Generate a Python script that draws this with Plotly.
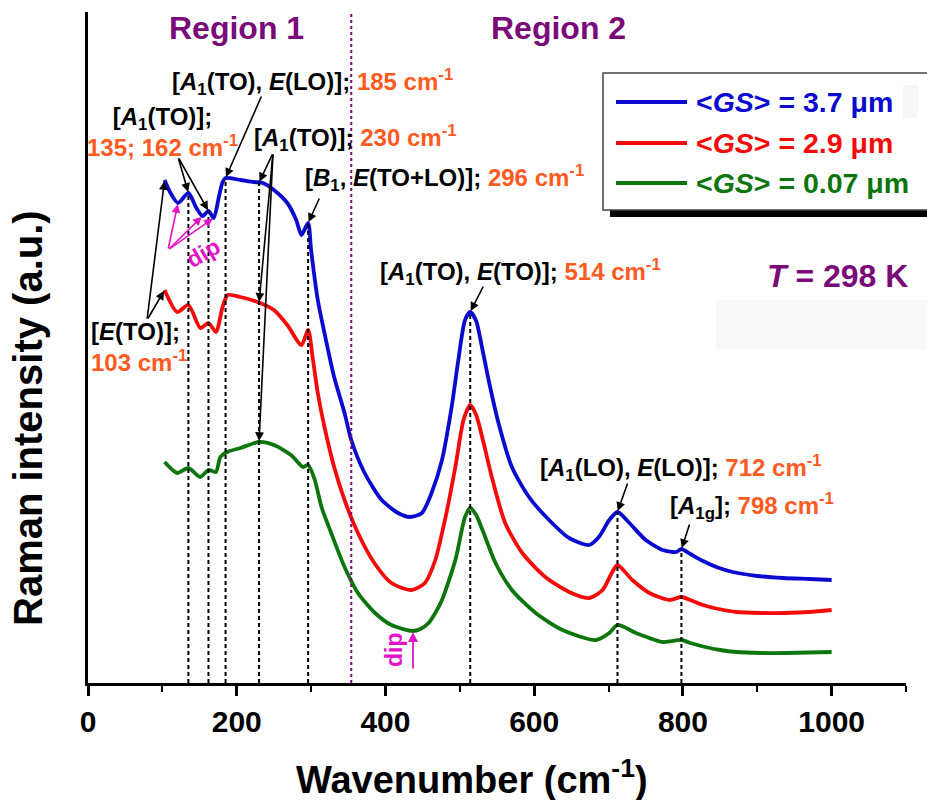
import numpy as np
import plotly.graph_objects as go

# ---- Raman spectra (wavenumber in cm^-1, intensity in a.u., vertically offset) ----
wn_37 = [103, 111, 121, 135, 145, 154, 162, 169, 176, 181, 185, 205, 223, 235, 250, 268,
         280, 287, 296, 300, 309, 318, 331, 345, 354, 372, 395, 417, 433, 449, 462, 476,
         489, 498, 507, 514, 522, 530, 539, 552, 570, 593, 620, 647, 674, 687, 701, 712, 728,
         750, 773, 791, 798, 810, 827, 845, 867, 900, 935, 970, 1000]
int_37 = [503, 490, 480, 490, 476, 467, 472, 465, 486, 501, 505, 503, 501, 500, 493, 480,
          463, 448, 460, 433, 383, 350, 306, 270, 243, 210, 183, 170, 166, 170, 190, 223,
          276, 323, 363, 371, 362, 335, 302, 260, 216, 186, 163, 145, 138, 146, 163, 171, 160,
          143, 133, 131, 134, 129, 122, 116, 111, 107, 105, 104, 103]

wn_29 = [103, 120, 135, 151, 162, 172, 181, 188, 205, 228, 250, 268, 287, 296, 302, 309,
         318, 331, 345, 363, 385, 408, 435, 453, 467, 480, 494, 505, 514, 522, 532, 543, 561,
         584, 615, 647, 674, 692, 705, 712, 732, 755, 782, 798, 810, 827, 848, 872, 905,
         939, 970, 1000]
int_29 = [393, 371, 378, 355, 360, 351, 376, 388, 386, 381, 373, 358, 338, 353, 326, 290,
          256, 216, 183, 150, 120, 100, 93, 100, 123, 163, 216, 263, 278, 268, 240, 206, 160,
          130, 106, 91, 85, 93, 111, 118, 103, 90, 83, 86, 83, 78, 74, 71, 70,
          70, 71, 73]

wn_007 = [103, 120, 135, 151, 162, 172, 178, 187, 205, 230, 250, 273, 289, 296, 305, 314,
          327, 345, 363, 386, 408, 437, 447, 458, 467, 476, 494, 507, 514, 522, 532, 548, 570,
          602, 638, 683, 701, 712, 737, 773, 798, 810, 830, 850, 872, 905, 939, 1000]
int_007 = [221, 210, 215, 206, 213, 211, 226, 231, 235, 241, 238, 228, 216, 218, 203, 176,
           150, 116, 90, 70, 58, 52, 54, 60, 70, 83, 123, 166, 175, 168, 150, 120, 93,
           70, 53, 43, 50, 58, 50, 41, 43, 40, 36, 33, 31, 30, 30, 31]

series_names = ["&lt;<i>GS</i>&gt; = 3.7 μm", "&lt;<i>GS</i>&gt; = 2.9 μm", "&lt;<i>GS</i>&gt; = 0.07 μm"]

# assigned phonon modes (cm^-1)
mode_wn = [135, 162, 185, 230, 296, 514, 712, 798]
region_split = 354
dip_wn_region1 = [121, 154, 169]
dip_wn_region2 = 437

BLUE = "#0A0AD0"
RED = "#F50A0A"
GREEN = "#0C760C"
ORANGE = "#FF5A1F"
PURPLE = "#7A0A78"
MAGENTA = "#E214C6"
FONT = "Liberation Sans, Arial, sans-serif"

W, H = 927, 800
L, R, T, B = 88, 21, 12, 117
X_MAX = 1100
Y_MAX = H - T - B
PX_PER_WN = (W - L - R) / X_MAX


def to_data(px, py):
    """Canvas pixel position -> axis coordinates."""
    return (px - L) / PX_PER_WN, (H - B) - py


def to_paper(px, py):
    return (px - L) / (W - L - R), ((H - B) - py) / Y_MAX


def level(w, wn, inten):
    return float(np.interp(w, wn, inten))


fig = go.Figure()
for wn, inten, col, nm in [(wn_37, int_37, BLUE, series_names[0]),
                           (wn_29, int_29, RED, series_names[1]),
                           (wn_007, int_007, GREEN, series_names[2])]:
    fig.add_trace(go.Scatter(x=wn, y=inten, mode="lines", name=nm, showlegend=False,
                             line=dict(color=col, width=3.8, shape="spline", smoothing=0.7)))

shapes = []
# region divider
shapes.append(dict(type="line", xref="x", yref="y", x0=region_split, x1=region_split,
                   y0=0, y1=Y_MAX, line=dict(color=PURPLE, width=2, dash="dot")))
# mode markers: dashed drop lines from the top spectrum to the axis
for w in mode_wn:
    shapes.append(dict(type="line", xref="x", yref="y", x0=w, x1=w, y0=0,
                       y1=level(w, wn_37, int_37),
                       line=dict(color="black", width=2, dash="4px,3px")))

# faint background patches
px0, py0 = to_paper(716, 300)
px1, py1 = to_paper(940, 350)
shapes.append(dict(type="rect", xref="paper", yref="paper", x0=px0, x1=px1, y0=py1, y1=py0,
                   fillcolor="#F8F8F8", line=dict(width=0), layer="below"))

# legend box with drop shadow
sx0, sy0 = to_paper(610, 80)
sx1, sy1 = to_paper(945, 217)
shapes.append(dict(type="rect", xref="paper", yref="paper", x0=sx0, x1=sx1, y0=sy1, y1=sy0,
                   fillcolor="black", line=dict(width=0)))
bx0, by0 = to_paper(603, 73)
bx1, by1 = to_paper(940, 210)
shapes.append(dict(type="rect", xref="paper", yref="paper", x0=bx0, x1=bx1, y0=by1, y1=by0,
                   fillcolor="white", line=dict(color="#444444", width=1.5)))
gx0, gy0 = to_paper(903, 85)
gx1, gy1 = to_paper(918, 118)
shapes.append(dict(type="rect", xref="paper", yref="paper", x0=gx0, x1=gx1, y0=gy1, y1=gy0,
                   fillcolor="#F6F6F6", line=dict(width=0)))

legend_rows = [102, 143, 183]
for py, col in zip(legend_rows, [BLUE, RED, GREEN]):
    lx0, ly = to_paper(616, py)
    lx1, _ = to_paper(687, py)
    shapes.append(dict(type="line", xref="paper", yref="paper", x0=lx0, x1=lx1, y0=ly, y1=ly,
                       line=dict(color=col, width=4)))

ann = []


def label(px, py, text, size=24, color="black", xanchor="left", align="left", angle=0):
    x, y = to_data(px, py)
    ann.append(dict(x=x, y=y, xref="x", yref="y", text=text, showarrow=False,
                    xanchor=xanchor, yanchor="middle", align=align, textangle=angle,
                    font=dict(family=FONT, size=size, color=color, weight="bold")))


def arrow(xh, yh, tail_px, tail_py, color="black"):
    ax, ay = to_data(tail_px, tail_py)
    ann.append(dict(x=xh, y=yh, ax=ax, ay=ay, xref="x", yref="y", axref="x", ayref="y",
                    text="", showarrow=True, arrowhead=2, arrowsize=1.1, arrowwidth=1.6,
                    arrowcolor=color, standoff=1))


def cm(v):
    return f"<span style='color:{ORANGE}'>{v} cm<sup>-1</sup></span>"


label(236, 28, "Region 1", size=32, color=PURPLE, xanchor="center")
label(558, 28, "Region 2", size=32, color=PURPLE, xanchor="center")
label(765, 276, "<i>T</i> = 298 K", size=32, color=PURPLE)

label(170, 82, "[<i>A</i><sub>1</sub>(TO), <i>E</i>(LO)]; " + cm(185))
label(162, 132, "[<i>A</i><sub>1</sub>(TO)];<br>" + cm("135; 162"), xanchor="center", align="center")
label(252, 138, "[<i>A</i><sub>1</sub>(TO)]; " + cm(230))
label(303, 178, "[<i>B</i><sub>1</sub>, <i>E</i>(TO+LO)]; " + cm(296))
label(89, 347, "[<i>E</i>(TO)];<br>" + cm(103))
label(378, 272, "[<i>A</i><sub>1</sub>(TO), <i>E</i>(TO)]; " + cm(514))
label(538, 468, "[<i>A</i><sub>1</sub>(LO), <i>E</i>(LO)]; " + cm(712))
label(668, 506, "[<i>A</i><sub>1g</sub>]; " + cm(798))

for py, col, nm in zip(legend_rows, [BLUE, RED, GREEN], series_names):
    label(694, py, nm, size=28.5, color=col)

label(203, 253, "dip", size=23, color=MAGENTA, xanchor="center", angle=-30)
label(394, 650, "dip", size=23, color=MAGENTA, xanchor="center", angle=-90)

# arrows to the assigned modes
arrow(103, level(103, wn_37, int_37), 147, 320)
arrow(103, level(103, wn_29, int_29), 147, 320)
arrow(135, level(135, wn_37, int_37), 178, 157)
arrow(162, level(162, wn_37, int_37), 178, 157)
arrow(185, level(185, wn_37, int_37), 262, 95)
arrow(230, level(230, wn_37, int_37), 273, 153)
arrow(230, level(230, wn_29, int_29), 273, 153)
arrow(230, level(230, wn_007, int_007), 273, 153)
arrow(296, level(296, wn_37, int_37), 320, 197)
arrow(514, level(514, wn_37, int_37), 484, 285)
arrow(712, level(712, wn_37, int_37), 628, 482)
arrow(798, level(798, wn_37, int_37), 690, 523)
for w in dip_wn_region1:
    arrow(w, level(w, wn_37, int_37), 168, 250, color=MAGENTA)
ann.append(dict(x=dip_wn_region2, y=level(dip_wn_region2, wn_007, int_007), ax=dip_wn_region2,
                ay=to_data(0, 670)[1], xref="x", yref="y", axref="x", ayref="y", text="",
                showarrow=True, arrowhead=2, arrowsize=1.1, arrowwidth=1.8,
                arrowcolor=MAGENTA, standoff=1))

# axis titles
tx, ty = to_paper(472, 777)
ann.append(dict(x=tx, y=ty, xref="paper", yref="paper", showarrow=False, xanchor="center",
                yanchor="middle", text="Wavenumber (cm<sup>-1</sup>)",
                font=dict(family=FONT, size=38, color="black", weight="bold")))
yx, yy = to_paper(28, 418)
ann.append(dict(x=yx, y=yy, xref="paper", yref="paper", showarrow=False, xanchor="center",
                yanchor="middle", textangle=-90, text="Raman intensity (a.u.)",
                font=dict(family=FONT, size=40, color="black", weight="bold")))

fig.update_layout(
    width=W, height=H, autosize=False,
    margin=dict(l=L, r=R, t=T, b=B),
    paper_bgcolor="white", plot_bgcolor="white",
    shapes=shapes, annotations=ann,
    xaxis=dict(range=[0, X_MAX], showgrid=False, zeroline=False,
               showline=True, linecolor="black", linewidth=3,
               tickmode="array", tickvals=[0, 200, 400, 600, 800, 1000],
               ticks="outside", ticklen=10, tickwidth=3, tickcolor="black",
               minor=dict(dtick=100, ticks="outside", ticklen=6, tickwidth=2, tickcolor="black"),
               tickfont=dict(family=FONT, size=30, color="black", weight="bold")),
    yaxis=dict(range=[0, Y_MAX], showgrid=False, zeroline=False,
               showline=True, linecolor="black", linewidth=3,
               showticklabels=False, ticks=""),
)

fig.write_html("out.html")
